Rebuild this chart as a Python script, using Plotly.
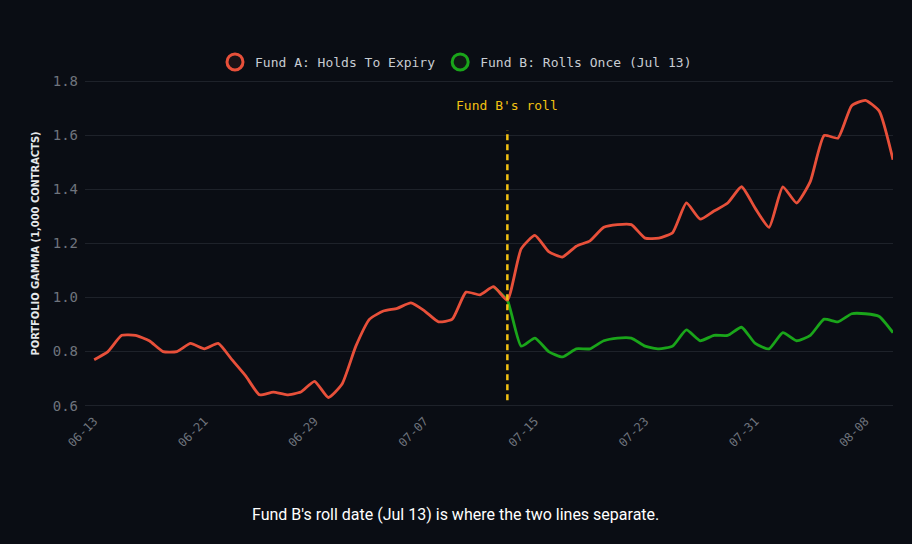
import pandas as pd
import plotly.graph_objects as go

# daily dates, 06-13 .. 08-10
dates = pd.date_range("2024-06-13", "2024-08-10", freq="D")

fund_a = [0.77, 0.80, 0.86, 0.86, 0.84, 0.80, 0.80, 0.83, 0.81, 0.83,
          0.77, 0.71, 0.64, 0.65, 0.64, 0.65, 0.69, 0.63, 0.68, 0.82,
          0.92, 0.95, 0.96, 0.98, 0.95, 0.91, 0.92, 1.02, 1.01, 1.04,
          0.99, 1.18, 1.23, 1.17, 1.15, 1.19, 1.21, 1.26, 1.27, 1.27,
          1.22, 1.22, 1.24, 1.35, 1.29, 1.32, 1.35, 1.41, 1.33, 1.26,
          1.41, 1.35, 1.43, 1.60, 1.59, 1.71, 1.73, 1.69, 1.51]

# fund B follows A until the roll, only drawn from the day before
fund_b = [None] * 29 + [
          1.04, 0.99, 0.82, 0.85, 0.80, 0.78, 0.81, 0.81, 0.84, 0.85,
          0.85, 0.82, 0.81, 0.82, 0.88, 0.84, 0.86, 0.86, 0.89, 0.83,
          0.81, 0.87, 0.84, 0.86, 0.92, 0.91, 0.94, 0.94, 0.93, 0.87]

roll_date = "2024-07-13"

BG = "#0a0d14"
RED = "#e8503a"
GREEN = "#1aa51a"
YELLOW = "#f2c012"
MONO = "DejaVu Sans Mono"

fig = go.Figure()

# B first so A sits on top where they overlap
fig.add_trace(go.Scatter(x=dates, y=fund_b, mode="lines", showlegend=False,
                         line=dict(color=GREEN, width=2.8, shape="spline", smoothing=0.5)))
fig.add_trace(go.Scatter(x=dates, y=fund_a, mode="lines", showlegend=False,
                         line=dict(color=RED, width=2.8, shape="spline", smoothing=0.5)))

# legend entries drawn as open circles
fig.add_trace(go.Scatter(x=[None], y=[None], mode="markers", name="Fund A: Holds To Expiry",
                         marker=dict(size=18, color="#1a1216", line=dict(color=RED, width=3))))
fig.add_trace(go.Scatter(x=[None], y=[None], mode="markers", name="Fund B: Rolls Once (Jul 13)",
                         marker=dict(size=18, color="#0f1a14", line=dict(color=GREEN, width=3))))

fig.add_shape(type="line", x0=roll_date, x1=roll_date, y0=0.62, y1=1.62,
              xref="x", yref="y", line=dict(color=YELLOW, width=2.5, dash="6px,4px"))
fig.add_annotation(x=roll_date, y=1.71, text="Fund B's roll", showarrow=False,
                   font=dict(family=MONO, size=13, color=YELLOW))

fig.add_annotation(xref="paper", yref="paper", x=0.459, xanchor="center",
                   y=-0.31, yanchor="middle", showarrow=False,
                   text="Fund B's roll date (Jul 13) is where the two lines separate.",
                   font=dict(family="Roboto", size=16, color="#ffffff"))

fig.update_layout(
    width=912, height=544,
    paper_bgcolor=BG, plot_bgcolor=BG,
    margin=dict(l=85, r=19, t=76, b=133, autoexpand=False),
    legend=dict(orientation="h", xref="container", yref="container",
                x=0.5, xanchor="center", y=0.886, yanchor="middle",
                font=dict(family=MONO, size=13, color="#c8ccd2"),
                itemsizing="trace", bgcolor="rgba(0,0,0,0)"),
    xaxis=dict(range=["2024-06-12 08:00", "2024-08-10"], automargin=False,
               tick0="2024-06-13", dtick=8 * 86400000, tickformat="%m-%d",
               tickangle=-45, showgrid=False, zeroline=False,
               tickfont=dict(family=MONO, size=12, color="#6f747d"), ticks=""),
    yaxis=dict(range=[0.58, 1.82], tickvals=[0.6, 0.8, 1.0, 1.2, 1.4, 1.6, 1.8],
               automargin=False, ticklabelstandoff=6,
               tickformat=".1f", gridcolor="#1e222a", gridwidth=1, zeroline=False,
               tickfont=dict(family=MONO, size=14, color="#6f747d"), ticks="",
               title=dict(text="<b>PORTFOLIO GAMMA (1,000 CONTRACTS)</b>", standoff=10,
                          font=dict(family="Liberation Sans Narrow, DejaVu Sans Condensed",
                                    size=11, color="#e6e8eb"))),
)

fig.write_html("out.html", config={"displayModeBar": False},
               post_script="document.body.style.margin='0';")
